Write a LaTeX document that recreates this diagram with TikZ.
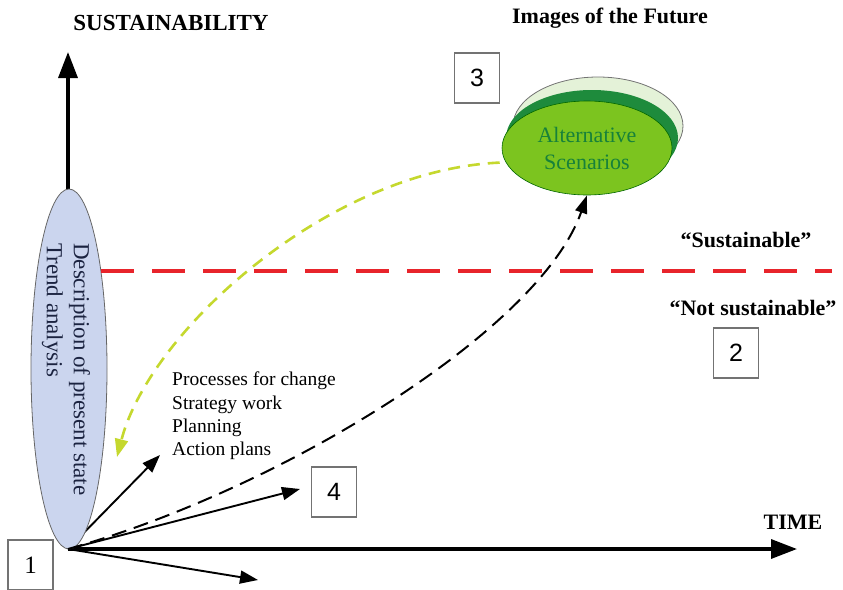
\documentclass[tikz,border=0pt]{standalone}
\usepackage{fontspec}
\setmainfont{Liberation Serif}
\newfontfamily\numfont{Liberation Sans}
\usetikzlibrary{shapes.geometric,arrows.meta}
\definecolor{stateblue}{HTML}{CBD5EE}
\definecolor{statetext}{HTML}{1B2340}
\definecolor{limitred}{HTML}{E8242B}
\definecolor{backcast}{HTML}{C5D82E}
\definecolor{scenfill}{HTML}{7CC41F}
\definecolor{scenband}{HTML}{1E8B3C}
\definecolor{scenback}{HTML}{E4F2D8}
\definecolor{scentext}{HTML}{17813A}
\tikzset{
  axis/.style={line width=3.4pt,-{Triangle[length=26pt,width=19pt]}},
  thinarrow/.style={line width=1.9pt,-{Triangle[length=18pt,width=13pt]}},
  numbox/.style={draw=black!55,line width=1.1pt,minimum width=45pt,minimum height=50pt,inner sep=0pt,
    font=\numfont\fontsize{25}{25}\selectfont},
  heading/.style={font=\bfseries\fontsize{22}{26}\selectfont,inner sep=0pt},
}
\begin{document}
\begin{tikzpicture}[x=1pt,y=-1pt]
\useasboundingbox (0,0) rectangle (843,589);

% axes
\coordinate (O) at (68,549);
\coordinate (ytip) at (68,52);
\coordinate (xtip) at (797,549);
\draw[axis] (O) -- (ytip);
\draw[axis] (O) -- (xtip);

% thin arrows from the present state
\coordinate (a1) at (160,455);
\coordinate (a2) at (300,489);
\coordinate (a3) at (258,580);
\draw[thinarrow] (O) -- (a1);
\draw[thinarrow] (O) -- (a2);
\draw[thinarrow] (O) -- (a3);

% present state ellipse
\node[ellipse,draw=black!60,line width=0.8pt,fill=stateblue,minimum width=76pt,minimum height=360pt,inner sep=0pt]
  (present) at (69,369) {};
\node[rotate=-90,anchor=west,align=left,text=statetext,inner sep=0pt,
  font=\fontsize{23}{27}\selectfont] (presenttxt) at (66,243)
  {Description of present state\\Trend analysis};

% sustainability threshold
\coordinate (r1) at (101,271);
\coordinate (r2) at (832,271);
\draw[limitred,line width=4.2pt,dash pattern=on 33pt off 18pt] (r1) -- (r2);

% images of the future
\node[ellipse,draw=black!55,line width=0.8pt,fill=scenback,minimum width=170pt,minimum height=98pt,inner sep=0pt]
  (back) at (598,126) {};
\node[ellipse,fill=scenband,minimum width=172pt,minimum height=96pt,inner sep=0pt]
  (band) at (592,138) {};
\node[ellipse,draw=green!40!black,line width=0.6pt,fill=scenfill,minimum width=170pt,minimum height=94pt,inner sep=0pt,
  align=center,text=scentext,font=\fontsize{22}{27}\selectfont]
  (alt) at (587,148) {Alternative\\Scenarios};

% backcasting and forecasting paths
\coordinate (yEnd) at (117,457);
\draw[backcast,line width=2.6pt,dash pattern=on 12pt off 8pt,shorten <=6pt,
  -{Triangle[length=18pt,width=13pt]}]
  (alt.190) .. controls (330,170) and (150,330) .. (yEnd);
\draw[black,line width=2pt,dash pattern=on 15pt off 8pt,
  -{Triangle[length=18pt,width=12pt]}]
  (O) .. controls (280,490) and (540,330) .. (alt.south);

% labels
\node[heading,font=\bfseries\fontsize{23}{26}\selectfont] (sus) at (171,23) {SUSTAINABILITY};
\node[heading] (img) at (610,18) {Images of the Future};
\node[heading] (time) at (793,522) {TIME};
\node[heading] (sust) at (746,240) {``Sustainable''};
\node[heading] (notsust) at (753,308) {``Not sustainable''};
\node[anchor=north west,align=left,inner sep=0pt,font=\fontsize{19.5}{23.3}\selectfont] (proc) at (172,372)
  {Processes for change\\Strategy work\\Planning\\Action plans};

% numbered boxes
\node[numbox,font=\fontsize{25}{25}\selectfont] (n1) at (30.5,565) {1};
\node[numbox] (n2) at (736,353) {2};
\node[numbox] (n3) at (477,78) {3};
\node[numbox] (n4) at (334,492) {4};
\end{tikzpicture}
\end{document}
